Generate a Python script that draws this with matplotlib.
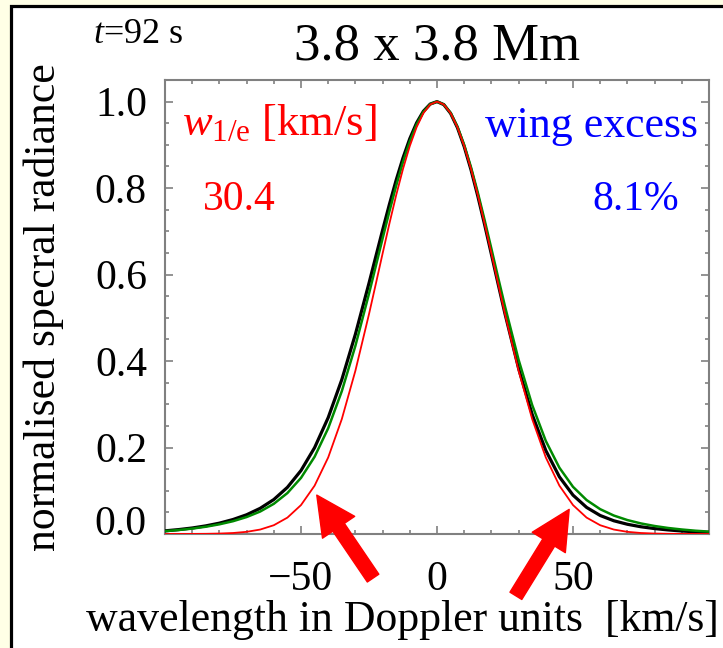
import matplotlib
matplotlib.use("Agg")
import matplotlib.pyplot as plt
from matplotlib.patches import Rectangle
from matplotlib.ticker import MultipleLocator, FixedLocator, FuncFormatter

plt.rcParams["font.family"] = ["Liberation Serif", "DejaVu Serif"]
plt.rcParams["mathtext.fontset"] = "custom"
plt.rcParams["mathtext.rm"] = "Liberation Serif"
plt.rcParams["mathtext.it"] = "Liberation Serif:italic"

# Doppler velocity grid [km/s]
velocity = [-100, -95, -90, -85, -80, -75, -70, -65, -60, -55, -50, -45, -40,
            -35, -30, -25, -22.5, -20, -17.5, -15, -12.5, -10, -7.5, -5, -2.5,
            0,
            2.5, 5, 7.5, 10, 12.5, 15, 17.5, 20, 22.5, 25, 30, 35, 40, 45, 50,
            55, 60, 65, 70, 75, 80, 85, 90, 95, 100]

# observed line profile (black)
observed = [0.0073, 0.0102, 0.0139, 0.0188, 0.0251, 0.0335, 0.0445, 0.0594,
            0.0797, 0.1079, 0.1468, 0.1997, 0.2692, 0.3570, 0.4621, 0.5801,
            0.6416, 0.7028, 0.7624, 0.8187, 0.8698, 0.9144, 0.9508, 0.9778,
            0.9944,
            1.0,
            0.9931, 0.9728, 0.9400, 0.8959, 0.8424, 0.7815, 0.7157, 0.6469,
            0.5775, 0.5093, 0.3829, 0.2764, 0.1932, 0.1322, 0.0899, 0.0615,
            0.0428, 0.0306, 0.0225, 0.0167, 0.0125, 0.0094, 0.0069, 0.0051,
            0.0037]

# model profile (green)
model = [0.0066, 0.0092, 0.0125, 0.0168, 0.0224, 0.0296, 0.0392, 0.0520,
         0.0698, 0.0947, 0.1298, 0.1786, 0.2447, 0.3303, 0.4353, 0.5559,
         0.6195, 0.6835, 0.7461, 0.8057, 0.8603, 0.9079, 0.9470, 0.9761,
         0.9940,
         1.0,
         0.9934, 0.9739, 0.9422, 0.8998, 0.8483, 0.7897, 0.7261, 0.6597,
         0.5924, 0.5263, 0.4029, 0.2981, 0.2152, 0.1533, 0.1091, 0.0785,
         0.0574, 0.0427, 0.0322, 0.0244, 0.0185, 0.0139, 0.0104, 0.0076,
         0.0055]

# Gaussian with 1/e half-width w_1e (red)
w_1e = 30.4
gaussian = [0.0000, 0.0001, 0.0002, 0.0004, 0.0010, 0.0023, 0.0050, 0.0103,
            0.0203, 0.0379, 0.0669, 0.1118, 0.1771, 0.2657, 0.3776, 0.5085,
            0.5782, 0.6487, 0.7179, 0.7839, 0.8444, 0.8974, 0.9409, 0.9733,
            0.9933,
            1.0,
            0.9933, 0.9733, 0.9409, 0.8974, 0.8444, 0.7839, 0.7179, 0.6487,
            0.5782, 0.5085, 0.3776, 0.2657, 0.1771, 0.1118, 0.0669, 0.0379,
            0.0203, 0.0103, 0.0050, 0.0023, 0.0010, 0.0004, 0.0002, 0.0001,
            0.0000]

wing_excess = 8.1
time_s = 92
box_size = "3.8 x 3.8 Mm"

W, H = 723, 648
fig = plt.figure(figsize=(W / 100, H / 100), dpi=100, facecolor="#FFFFE6")

# white panel with black frame, behind the axes
frame = Rectangle((11 / W, -0.05), 1.1, 1 - 6 / H + 0.05,
                  transform=fig.transFigure, facecolor="white",
                  edgecolor="black", linewidth=2.3, zorder=-10)
fig.patches.append(frame)

ax = fig.add_axes([165 / W, 1 - 534 / H, 544 / W, 454 / H])
ax.set_zorder(1)
ax.set_facecolor("white")

ax.plot(velocity, observed, color="black", lw=2.3, zorder=3)
ax.plot(velocity, model, color="#008a00", lw=1.8, zorder=4)
ax.plot(velocity, gaussian, color="#ff0000", lw=1.3, zorder=5)

ax.set_xlim(-100, 100)
ax.set_ylim(0, 1.05)
ax.xaxis.set_major_locator(FixedLocator([-50, 0, 50]))
ax.xaxis.set_minor_locator(MultipleLocator(10))
ax.yaxis.set_major_locator(MultipleLocator(0.2))
ax.yaxis.set_minor_locator(MultipleLocator(0.05))
ax.yaxis.set_major_formatter(FuncFormatter(lambda v, p: "" if abs(v) < 1e-9 else f"{v:.1f}"))

grey = "#808080"
for s in ax.spines.values():
    s.set_color(grey)
    s.set_linewidth(1.5)
ax.tick_params(which="both", direction="in", top=True, right=True,
               color=grey, width=1.2)
ax.tick_params(which="major", length=5.5)
ax.tick_params(which="minor", length=3)
ax.tick_params(axis="x", labelsize=30, pad=19)
ax.tick_params(axis="y", labelsize=30, pad=13)

# the zero label sits a little above the axis line
ax.annotate("0.0", xy=(0, 0), xycoords=("axes fraction", "data"),
            xytext=(-13, 6.5), textcoords="offset points",
            ha="right", va="center", fontsize=30)

# titles and labels
fig.text(436.7 / W, 1 - 60 / H, box_size, ha="center", va="baseline",
         fontsize=38)
fig.text(93 / W, 1 - 43 / H, rf"$t$={time_s} s", ha="left", va="baseline",
         fontsize=26)
fig.text(402 / W, 1 - 631 / H, "wavelength in Doppler units  [km/s]",
         ha="center", va="baseline", fontsize=31.5)
fig.text(44 / W, 1 - 307 / H, "normalised specral radiance", rotation=90,
         ha="center", va="center", fontsize=31.5)

fig.text(182 / W, 1 - 135 / H, r"$w_{\mathrm{1/e}}$ [km/s]", color="#ff0000",
         ha="left", va="baseline", fontsize=32)
fig.text(239 / W, 1 - 210 / H, f"{w_1e:.1f}", color="#ff0000",
         ha="center", va="baseline", fontsize=30)
fig.text(698 / W, 1 - 137 / H, "wing excess", color="#0000ff",
         ha="right", va="baseline", fontsize=31.6)
fig.text(679 / W, 1 - 210 / H, f"{wing_excess:.1f}%", color="#0000ff",
         ha="right", va="baseline", fontsize=30)

# arrows pointing at the line wings
arrow_style = "simple,head_length=1.4,head_width=1.4,tail_width=0.5"
for tip, tail in [((-44.2, 0.090), (-23.5, -0.102)),
                  ((48.6, 0.057), (29.0, -0.143))]:
    ax.annotate("", xy=tip, xytext=tail, annotation_clip=False,
                arrowprops=dict(arrowstyle=arrow_style, color="#ff0000",
                                shrinkA=0, shrinkB=0, mutation_scale=20),
                zorder=10)

fig.savefig("out.png", dpi=100, facecolor=fig.get_facecolor())
